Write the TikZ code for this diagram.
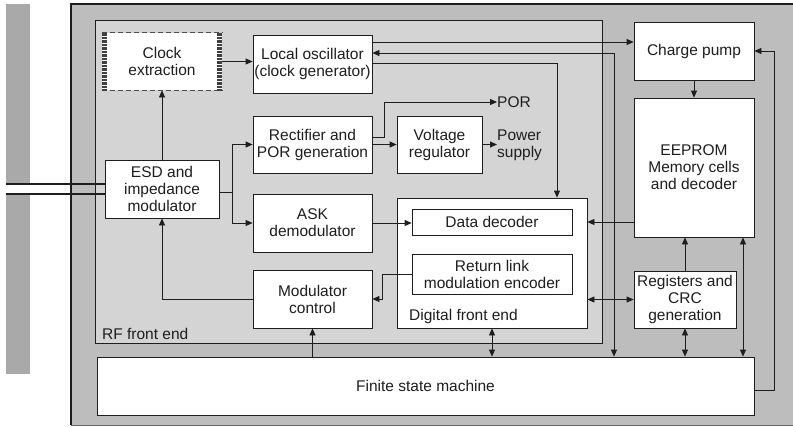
\documentclass[tikz,border=0pt]{standalone}
\usepackage{fontspec}
\setmainfont{Liberation Sans}
\usetikzlibrary{arrows.meta}
\definecolor{outergray}{HTML}{BDBDBD}
\definecolor{rfgray}{HTML}{D4D4D4}
\definecolor{bargray}{HTML}{A9A9A9}
\definecolor{ink}{HTML}{1E1E1E}
\tikzset{
  blk/.style={draw=ink, fill=white, line width=0.8pt, align=center, inner sep=0pt,
    text=ink, font=\fontsize{15.5}{17}\selectfont},
  lbl/.style={inner sep=0pt, text=ink, font=\fontsize{15.5}{17}\selectfont},
  wire/.style={draw=ink, line width=0.8pt},
  conn/.style={wire, -{Triangle[length=7pt,width=6pt]}},
  biconn/.style={wire, {Triangle[length=7pt,width=6pt]}-{Triangle[length=7pt,width=6pt]}},
  dashedge/.style={draw=black!70, line width=1pt, dash pattern=on 5pt off 3pt},
  hatchedge/.style={draw=black!75, line width=5pt, dash pattern=on 0.7pt off 0.7pt},
  antenna/.style={draw=ink, line width=1.2pt}
}
\begin{document}
\begin{tikzpicture}[x=1pt,y=-1pt]
\useasboundingbox (0,0) rectangle (793,426);
% antenna bar
\fill[bargray] (6,4) rectangle (30,184);
\fill[bargray] (6,194) rectangle (30,374);
% chip (open to the right) and RF front end containers
\node[draw=none, fill=outergray, inner sep=0pt, minimum width=722pt, minimum height=421pt] (chip) at (432,214.5) {};
\draw[draw=ink, line width=2.5pt] (chip.north east) -- (chip.north west) -- (chip.south west);
\draw[draw=black!60, line width=1pt] (chip.south west) -- (chip.south east);
\node[draw=ink, fill=rfgray, line width=0.8pt, inner sep=0pt, minimum width=507pt, minimum height=323pt] (rf) at (348.5,181.5) {};
\node[lbl, anchor=base west] (rflbl) at (102,339) {RF front end};
% blocks
\node[blk, draw=none, minimum width=120pt, minimum height=57pt] (clk) at (162,61.5) {Clock\\extraction};
\draw[dashedge] (clk.north west) -- (clk.north east);
\draw[dashedge] (clk.south west) -- (clk.south east);
\draw[hatchedge] ([xshift=2.5pt]clk.north west) -- ([xshift=2.5pt]clk.south west);
\draw[hatchedge] ([xshift=-2.5pt]clk.north east) -- ([xshift=-2.5pt]clk.south east);
\node[blk, minimum width=119pt, minimum height=58pt] (lo) at (312.5,64) {Local oscillator\\(clock generator)};
\node[blk, minimum width=119pt, minimum height=57pt] (rect) at (312.5,144.5) {Rectifier and\\POR generation};
\node[blk, minimum width=114pt, minimum height=58pt] (esd) at (162,189) {ESD and\\impedance\\modulator};
\node[blk, minimum width=119pt, minimum height=58pt] (ask) at (312.5,223) {ASK\\demodulator};
\node[blk, minimum width=119pt, minimum height=58pt] (mc) at (312.5,299) {Modulator\\control};
\node[blk, minimum width=85pt, minimum height=57pt] (vreg) at (439.5,144.5) {Voltage\\regulator};
\node[blk, minimum width=190pt, minimum height=130pt] (dfe) at (492,263) {};
\node[lbl, anchor=base west] (dfelbl) at (409,320) {Digital front end};
\node[blk, minimum width=160pt, minimum height=26pt] (dd) at (492,222) {Data decoder};
\node[blk, minimum width=160pt, minimum height=40pt] (rl) at (492,274) {Return link\\modulation encoder};
\node[blk, minimum width=120pt, minimum height=58pt] (cp) at (694,51) {Charge pump};
\node[blk, minimum width=120pt, minimum height=139pt] (ee) at (694,167.5) {EEPROM\\Memory cells\\and decoder};
\node[blk, minimum width=102pt, minimum height=57pt] (reg) at (685,299.5) {Registers and\\CRC\\generation};
\node[blk, minimum width=657pt, minimum height=58pt] (fsm) at (425.5,386) {Finite state machine};
\node[lbl, anchor=west] (porlbl) at (497,102) {POR};
\node[lbl, anchor=west, align=left] (pslbl) at (497,145) {Power\\supply};
% antenna lines
\coordinate (ant1) at (6,184);
\coordinate (ant2) at (6,194);
\draw[antenna] (ant1) -- (esd.west |- ant1);
\draw[antenna] (ant2) -- (esd.west |- ant2);
% connectors
\draw[conn] (esd.north) -- (clk.south);
\draw[conn] (clk.east) -- (lo.west |- clk.east);
\coordinate (split) at (232,192);
\draw[conn] (esd.east |- split) -- (split) |- (rect.west);
\draw[conn] (split) |- (ask.west);
\coordinate (porbend) at (384,137);
\draw[conn] (rect.east |- porbend) -- (porbend) |- (porlbl.west);
\draw[conn] (rect.east |- vreg.west) -- (vreg.west);
\draw[conn] (vreg.east) -- (pslbl.west |- vreg.east);
\coordinate (cpline) at (0,42);
\draw[conn] (lo.east |- cpline) -- (cp.west |- cpline);
\coordinate (fsmjoin) at (614,53);
\draw[biconn] (lo.east |- fsmjoin) -- (fsmjoin) -- (fsmjoin |- fsm.north);
\coordinate (dfejoin) at (557,63);
\draw[conn] (lo.east |- dfejoin) -- (dfejoin) -- (dfejoin |- dfe.north);
\draw[conn] (ask.east) -- (dd.west |- ask.east);
\draw[conn] (ee.west |- dd.east) -- (dfe.east |- dd.east);
\draw[conn] (rl.west) -- ++(-29,0) |- (mc.east);
\draw[conn] (mc.west) -| (esd.south);
\draw[conn] (fsm.north -| mc.south) -- (mc.south);
\draw[biconn] (dfe.south) -- (fsm.north -| dfe.south);
\draw[biconn] (dfe.east |- reg.west) -- (reg.west);
\draw[conn] (reg.north) -- (reg.north |- ee.south);
\draw[biconn] (reg.south) -- (reg.south |- fsm.north);
\coordinate (eefsm) at (743,0);
\draw[biconn] (ee.south -| eefsm) -- (fsm.north -| eefsm);
\draw[conn] (cp.south) -- (ee.north);
\coordinate (fsmcp) at (774,390);
\draw[conn] (fsm.east |- fsmcp) -- (fsmcp) |- (cp.east);
\end{tikzpicture}
\end{document}
